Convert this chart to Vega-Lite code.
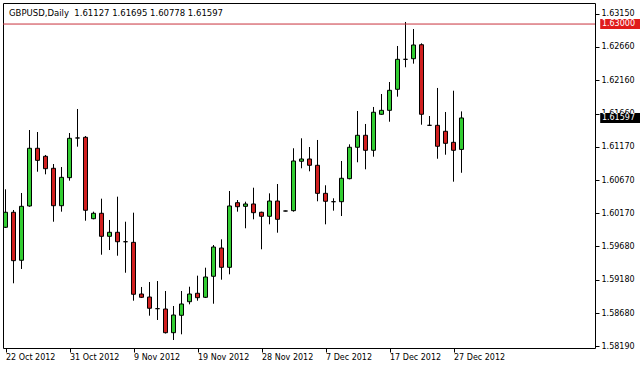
{
  "$schema": "https://vega.github.io/schema/vega-lite/v6.json",
  "width": 592,
  "height": 345,
  "autosize": "none",
  "padding": {"left": 3, "top": 3, "right": 45, "bottom": 20},
  "background": "white",
  "config": {
    "view": {"stroke": "black", "strokeWidth": 1},
    "axis": {"labelFont": "DejaVu Sans", "labelFontSize": 8, "labelColor": "black", "tickColor": "black", "domain": false, "grid": false, "labelOverlap": false, "labelFlush": false, "labelBound": false, "tickCount": 30},
    "axisY": {"orient": "right"}
  },
  "title": {"text": "GBPUSD,Daily\u00a0 1.61127 1.61695 1.60778 1.61597", "anchor": "start", "frame": "group", "orient": "top", "offset": -21, "dx": 6, "font": "DejaVu Sans", "fontSize": 8.5, "fontWeight": "normal", "color": "black", "baseline": "alphabetic"},
  "datasets": {
    "candles": [
      {"i": 0, "date": "2012-10-22", "open": 1.59964, "high": 1.60531, "low": 1.59953, "close": 1.60188},
      {"i": 1, "date": "2012-10-23", "open": 1.60188, "high": 1.60222, "low": 1.59127, "close": 1.59465},
      {"i": 2, "date": "2012-10-24", "open": 1.59471, "high": 1.60476, "low": 1.59341, "close": 1.60277},
      {"i": 3, "date": "2012-10-25", "open": 1.60282, "high": 1.61417, "low": 1.60271, "close": 1.61144},
      {"i": 4, "date": "2012-10-26", "open": 1.61144, "high": 1.61387, "low": 1.60794, "close": 1.60964},
      {"i": 5, "date": "2012-10-28", "open": 1.61024, "high": 1.61044, "low": 1.60755, "close": 1.60839},
      {"i": 6, "date": "2012-10-29", "open": 1.60845, "high": 1.60909, "low": 1.60047, "close": 1.60286},
      {"i": 7, "date": "2012-10-30", "open": 1.60286, "high": 1.60864, "low": 1.60197, "close": 1.60710},
      {"i": 8, "date": "2012-10-31", "open": 1.60705, "high": 1.61372, "low": 1.60660, "close": 1.61293},
      {"i": 9, "date": "2012-11-01", "open": 1.61298, "high": 1.61731, "low": 1.61168, "close": 1.61298},
      {"i": 10, "date": "2012-11-02", "open": 1.61308, "high": 1.61327, "low": 1.60062, "close": 1.60218},
      {"i": 11, "date": "2012-11-04", "open": 1.60092, "high": 1.60197, "low": 1.60083, "close": 1.60173},
      {"i": 12, "date": "2012-11-05", "open": 1.60173, "high": 1.60391, "low": 1.59554, "close": 1.59829},
      {"i": 13, "date": "2012-11-06", "open": 1.59829, "high": 1.60073, "low": 1.59624, "close": 1.59889},
      {"i": 14, "date": "2012-11-07", "open": 1.59889, "high": 1.60421, "low": 1.59539, "close": 1.59748},
      {"i": 15, "date": "2012-11-08", "open": 1.59748, "high": 1.60047, "low": 1.59285, "close": 1.59748},
      {"i": 16, "date": "2012-11-09", "open": 1.59739, "high": 1.60182, "low": 1.58867, "close": 1.58963},
      {"i": 17, "date": "2012-11-11", "open": 1.58967, "high": 1.59072, "low": 1.58907, "close": 1.58918},
      {"i": 18, "date": "2012-11-12", "open": 1.58922, "high": 1.59146, "low": 1.58643, "close": 1.58754},
      {"i": 19, "date": "2012-11-13", "open": 1.58748, "high": 1.59161, "low": 1.58579, "close": 1.58748},
      {"i": 20, "date": "2012-11-14", "open": 1.58743, "high": 1.59012, "low": 1.58377, "close": 1.58389},
      {"i": 21, "date": "2012-11-15", "open": 1.58389, "high": 1.58788, "low": 1.58280, "close": 1.58653},
      {"i": 22, "date": "2012-11-16", "open": 1.58649, "high": 1.59012, "low": 1.58365, "close": 1.58818},
      {"i": 23, "date": "2012-11-18", "open": 1.58852, "high": 1.59076, "low": 1.58813, "close": 1.58967},
      {"i": 24, "date": "2012-11-19", "open": 1.58978, "high": 1.59241, "low": 1.58867, "close": 1.58912},
      {"i": 25, "date": "2012-11-20", "open": 1.58918, "high": 1.59360, "low": 1.58907, "close": 1.59221},
      {"i": 26, "date": "2012-11-21", "open": 1.59232, "high": 1.59699, "low": 1.58822, "close": 1.59669},
      {"i": 27, "date": "2012-11-22", "open": 1.59654, "high": 1.59784, "low": 1.59181, "close": 1.59366},
      {"i": 28, "date": "2012-11-23", "open": 1.59366, "high": 1.60506, "low": 1.59261, "close": 1.60282},
      {"i": 29, "date": "2012-11-25", "open": 1.60331, "high": 1.60371, "low": 1.60197, "close": 1.60271},
      {"i": 30, "date": "2012-11-26", "open": 1.60277, "high": 1.60346, "low": 1.59949, "close": 1.60312},
      {"i": 31, "date": "2012-11-27", "open": 1.60312, "high": 1.60555, "low": 1.60083, "close": 1.60182},
      {"i": 32, "date": "2012-11-28", "open": 1.60188, "high": 1.60197, "low": 1.59635, "close": 1.60128},
      {"i": 33, "date": "2012-11-29", "open": 1.60128, "high": 1.60471, "low": 1.60008, "close": 1.60356},
      {"i": 34, "date": "2012-11-30", "open": 1.60356, "high": 1.60610, "low": 1.59883, "close": 1.60083},
      {"i": 35, "date": "2012-12-02", "open": 1.60207, "high": 1.60212, "low": 1.60202, "close": 1.60207},
      {"i": 36, "date": "2012-12-03", "open": 1.60212, "high": 1.61144, "low": 1.60197, "close": 1.60954},
      {"i": 37, "date": "2012-12-04", "open": 1.60950, "high": 1.61293, "low": 1.60845, "close": 1.60984},
      {"i": 38, "date": "2012-12-05", "open": 1.60984, "high": 1.61163, "low": 1.60800, "close": 1.60890},
      {"i": 39, "date": "2012-12-06", "open": 1.60890, "high": 1.61268, "low": 1.60352, "close": 1.60471},
      {"i": 40, "date": "2012-12-07", "open": 1.60471, "high": 1.60591, "low": 1.60008, "close": 1.60352},
      {"i": 41, "date": "2012-12-09", "open": 1.60346, "high": 1.60397, "low": 1.60212, "close": 1.60346},
      {"i": 42, "date": "2012-12-10", "open": 1.60346, "high": 1.60954, "low": 1.60132, "close": 1.60696},
      {"i": 43, "date": "2012-12-11", "open": 1.60690, "high": 1.61203, "low": 1.60680, "close": 1.61159},
      {"i": 44, "date": "2012-12-12", "open": 1.61159, "high": 1.61701, "low": 1.60935, "close": 1.61338},
      {"i": 45, "date": "2012-12-13", "open": 1.61338, "high": 1.61507, "low": 1.60830, "close": 1.61114},
      {"i": 46, "date": "2012-12-14", "open": 1.61114, "high": 1.61761, "low": 1.61018, "close": 1.61682},
      {"i": 47, "date": "2012-12-16", "open": 1.61652, "high": 1.61955, "low": 1.61645, "close": 1.61711},
      {"i": 48, "date": "2012-12-17", "open": 1.61711, "high": 1.62134, "low": 1.61541, "close": 1.62010},
      {"i": 49, "date": "2012-12-18", "open": 1.62025, "high": 1.62672, "low": 1.61915, "close": 1.62473},
      {"i": 50, "date": "2012-12-19", "open": 1.62473, "high": 1.63031, "low": 1.62354, "close": 1.62473},
      {"i": 51, "date": "2012-12-20", "open": 1.62482, "high": 1.62926, "low": 1.62408, "close": 1.62687},
      {"i": 52, "date": "2012-12-21", "open": 1.62691, "high": 1.62712, "low": 1.61496, "close": 1.61652},
      {"i": 53, "date": "2012-12-23", "open": 1.61487, "high": 1.61626, "low": 1.61477, "close": 1.61487},
      {"i": 54, "date": "2012-12-24", "open": 1.61487, "high": 1.62045, "low": 1.60988, "close": 1.61174},
      {"i": 55, "date": "2012-12-26", "open": 1.61398, "high": 1.61686, "low": 1.61048, "close": 1.61218},
      {"i": 56, "date": "2012-12-27", "open": 1.61233, "high": 1.62004, "low": 1.60645, "close": 1.61114},
      {"i": 57, "date": "2012-12-28", "open": 1.61127, "high": 1.61695, "low": 1.60778, "close": 1.61597}
    ],
    "tags": [
      {"label": "1.63000", "price": 1.63, "kind": "level"},
      {"label": "1.61597", "price": 1.61597, "kind": "bid"}
    ]
  },
  "layer": [
    {
      "data": {"name": "candles"},
      "mark": {"type": "rule", "color": "black", "strokeWidth": 1},
      "encoding": {
        "x": {
          "field": "i", "type": "quantitative", "title": null,
          "scale": {"domain": [-0.3125, 73.6875], "nice": false, "zero": false, "padding": 0},
          "axis": {
            "values": [0, 8, 16, 24, 32, 40, 48, 56],
            "labelExpr": "['22 Oct 2012','31 Oct 2012','9 Nov 2012','19 Nov 2012','28 Nov 2012','7 Dec 2012','17 Dec 2012','27 Dec 2012'][datum.value / 8]",
            "title": null, "tickSize": 4, "labelAlign": "left", "labelPadding": 1, "labelOffset": 0,
            "labelOverlap": false, "labelBound": false, "labelFlush": false, "tickCount": 30
          }
        },
        "y": {
          "field": "low", "type": "quantitative", "title": null,
          "scale": {"domain": [1.581604, 1.633143], "nice": false, "zero": false, "padding": 0},
          "axis": {
            "orient": "right",
            "values": [1.5819, 1.5868, 1.5918, 1.5968, 1.6017, 1.6067, 1.6117, 1.6166, 1.6216, 1.6266, 1.6315],
            "format": ".5f", "title": null, "tickSize": 4, "labelPadding": 2, "labelOverlap": false, "labelFlush": false, "labelBound": false, "tickCount": 30
          }
        },
        "y2": {"field": "high"}
      }
    },
    {
      "data": {"name": "candles"},
      "mark": {"type": "bar", "size": 4, "stroke": "black", "strokeWidth": 1},
      "encoding": {
        "x": {"field": "i", "type": "quantitative", "title": null, "scale": {"domain": [-0.3125, 73.6875], "nice": false, "zero": false, "padding": 0}},
        "y": {"field": "open", "type": "quantitative", "title": null, "scale": {"domain": [1.581604, 1.633143], "nice": false, "zero": false, "padding": 0}, "axis": {"orient": "right", "labelOverlap": false, "tickCount": 30}},
        "y2": {"field": "close"},
        "fill": {
          "condition": [
            {"test": "datum.close > datum.open", "value": "#32CD32"},
            {"test": "datum.close < datum.open", "value": "#D01F1F"}
          ],
          "value": "black"
        }
      }
    },
    {
      "data": {"values": [{}]},
      "mark": {"type": "rule", "color": "#C8323C", "strokeWidth": 1},
      "encoding": {"y": {"datum": 1.63, "type": "quantitative", "title": null, "scale": {"domain": [1.581604, 1.633143], "nice": false, "zero": false, "padding": 0}, "axis": {"orient": "right", "labelOverlap": false, "tickCount": 30}}}
    },
    {
      "data": {"name": "tags"},
      "mark": {"type": "bar", "orient": "horizontal", "size": 10},
      "encoding": {
        "x": {"datum": 74.3375, "type": "quantitative", "title": null, "scale": {"domain": [-0.3125, 73.6875], "nice": false, "zero": false, "padding": 0}},
        "x2": {"datum": 79.5},
        "y": {"field": "price", "type": "quantitative", "title": null, "scale": {"domain": [1.581604, 1.633143], "nice": false, "zero": false, "padding": 0}, "axis": {"orient": "right", "labelOverlap": false, "tickCount": 30}},
        "color": {"field": "kind", "type": "nominal", "scale": {"domain": ["level", "bid"], "range": ["#E01B1B", "black"]}, "legend": null}
      }
    },
    {
      "data": {"name": "tags"},
      "mark": {"type": "text", "align": "left", "baseline": "middle", "font": "DejaVu Sans", "fontSize": 8, "color": "white"},
      "encoding": {
        "x": {"datum": 74.55, "type": "quantitative", "title": null, "scale": {"domain": [-0.3125, 73.6875], "nice": false, "zero": false, "padding": 0}},
        "y": {"field": "price", "type": "quantitative", "title": null, "scale": {"domain": [1.581604, 1.633143], "nice": false, "zero": false, "padding": 0}, "axis": {"orient": "right", "labelOverlap": false, "tickCount": 30}},
        "text": {"field": "label"}
      }
    }
  ]
}
